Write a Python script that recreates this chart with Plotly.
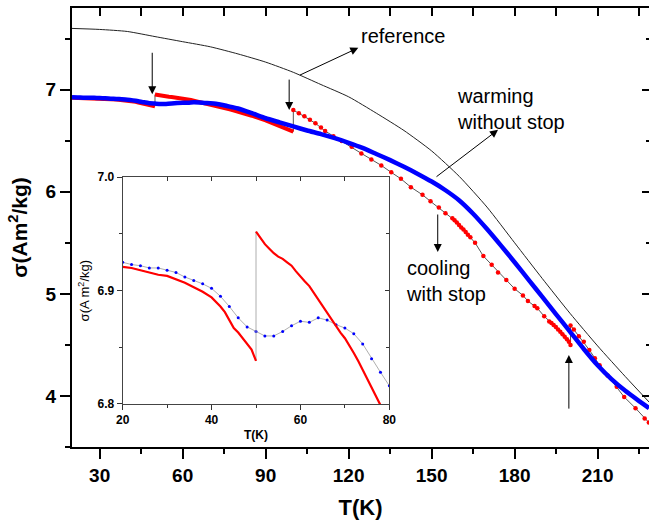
import plotly.graph_objects as go

# ---------------- data ----------------
ref_T = [20, 30, 40, 50, 60, 70, 80, 90, 100, 110, 120, 130, 140, 150, 160, 170, 180, 190, 200, 210, 220, 230]
ref_sigma = [7.60, 7.59, 7.57, 7.52, 7.47, 7.42, 7.35, 7.27, 7.17, 7.05, 6.93, 6.77, 6.60, 6.40, 6.15, 5.85,
             5.50, 5.15, 4.81, 4.49, 4.19, 3.90]

blue_T = [20, 22, 24, 26, 28, 30, 32, 34, 36, 38, 40, 42, 44, 46, 48, 50, 52, 54, 56, 58, 60, 62, 64, 66, 68,
          70, 72, 74, 76, 78, 80, 85, 90, 95, 100, 105, 110, 115, 120, 125, 130, 135, 140, 145, 150, 155, 160,
          165, 170, 175, 180, 185, 190, 195, 200, 205, 210, 215, 220, 225, 228.6]
blue_sigma = [6.925, 6.923, 6.922, 6.920, 6.920, 6.918, 6.916, 6.912, 6.909, 6.906, 6.902, 6.895, 6.886, 6.876,
              6.868, 6.864, 6.860, 6.860, 6.864, 6.869, 6.873, 6.872, 6.876, 6.874, 6.870, 6.867, 6.862, 6.853,
              6.840, 6.828, 6.816, 6.770, 6.720, 6.680, 6.640, 6.600, 6.565, 6.525, 6.480, 6.430, 6.370, 6.310,
              6.245, 6.175, 6.100, 6.015, 5.915, 5.785, 5.635, 5.475, 5.310, 5.140, 4.970, 4.800, 4.630, 4.460,
              4.300, 4.165, 4.050, 3.950, 3.880]

# cooling with stop: four segments separated by the stops at 50 K, 100 K and 200 K
red_T_seg1 = [20, 22, 24, 26, 28, 30, 32, 34, 36, 38, 40, 42, 43, 44, 45, 46, 47, 48, 49, 50]
red_sigma_seg1 = [6.921, 6.920, 6.918, 6.916, 6.914, 6.913, 6.910, 6.907, 6.903, 6.899, 6.894, 6.886, 6.881,
                  6.874, 6.867, 6.863, 6.858, 6.853, 6.848, 6.838]

red_T_seg2 = [50, 51, 52, 53, 54, 55, 56, 57, 58, 59, 60, 61, 62, 63, 64, 65, 66, 67, 68, 69, 70, 71, 72, 73,
              74, 75, 76, 77, 78, 80, 85, 90, 95, 100]
red_sigma_seg2 = [6.952, 6.946, 6.941, 6.937, 6.933, 6.930, 6.928, 6.925, 6.922, 6.917, 6.912, 6.908, 6.904,
                  6.898, 6.892, 6.886, 6.880, 6.874, 6.869, 6.863, 6.858, 6.852, 6.845, 6.838, 6.830, 6.823,
                  6.815, 6.807, 6.799, 6.785, 6.745, 6.700, 6.645, 6.590]

red_T_seg3 = [100, 102, 104, 106, 108, 110, 111.5, 114.5, 117.5, 121.1, 124.6, 128.2, 131.8, 135.4, 138.9,
              142.5, 146.7, 149.6, 152.6, 155.0, 157.5, 158.3, 159.1, 159.9, 160.7, 161.5, 162.3, 163.1, 164.0,
              165.7, 168.7, 171.7, 174.0, 177.0, 180.0, 183.0, 184.8, 187.2, 188.2, 190.7, 192.5, 193.3, 194.1,
              194.9, 195.7, 196.5, 197.3, 198.1, 198.9, 199.6, 200.2]
red_sigma_seg3 = [6.80, 6.77, 6.74, 6.705, 6.67, 6.63, 6.595, 6.545, 6.497, 6.44, 6.376, 6.317, 6.258, 6.19,
                  6.127, 6.045, 5.97, 5.906, 5.845, 5.79, 5.74, 5.72, 5.70, 5.675, 5.65, 5.63, 5.605, 5.58,
                  5.555, 5.50, 5.37, 5.285, 5.21, 5.135, 5.05, 4.985, 4.93, 4.88, 4.86, 4.78, 4.73, 4.715,
                  4.695, 4.675, 4.65, 4.63, 4.605, 4.58, 4.555, 4.53, 4.50]

red_T_seg4 = [200.2, 201.4, 203.2, 205.0, 207.0, 209.0, 210.7, 213.6, 216.9, 219.6, 223.7, 227.0, 228.5]
red_sigma_seg4 = [4.69, 4.65, 4.585, 4.53, 4.45, 4.37, 4.30, 4.20, 4.09, 3.99, 3.88, 3.78, 3.74]

main_x_ticks = [30, 60, 90, 120, 150, 180, 210]
main_y_ticks = [4, 5, 6, 7]
inset_x_ticks = [20, 40, 60, 80]
inset_y_ticks = [6.8, 6.9, 7.0]
inset_y_labels = ["6.8", "6.9", "7.0"]

# ---------------- figure ----------------
FONT = "Liberation Sans, Arial, sans-serif"
XR = [20, 228.57]
YR = [3.5, 7.8]
IXR = [20, 80]
IYR = [6.8, 7.0]
inset_dom_x = [0.0878, 0.550]
inset_dom_y = [0.098, 0.6144]

fig = go.Figure()


def joined(*segs):
    xs, ys = [], []
    for sx, sy in segs:
        xs += list(sx) + [None]
        ys += list(sy) + [None]
    return xs, ys


all_red_T = red_T_seg1 + red_T_seg2 + red_T_seg3 + red_T_seg4
all_red_s = red_sigma_seg1 + red_sigma_seg2 + red_sigma_seg3 + red_sigma_seg4

# main plot
fig.add_trace(go.Scatter(x=ref_T, y=ref_sigma, mode="lines", line=dict(color="#222", width=1, shape="spline", smoothing=0.6),
                         xaxis="x", yaxis="y", showlegend=False, hoverinfo="skip"))
fig.add_trace(go.Scatter(x=all_red_T, y=all_red_s, mode="lines", line=dict(color="#555", width=1),
                         xaxis="x", yaxis="y", showlegend=False, hoverinfo="skip"))
tx, ty = joined((red_T_seg1, red_sigma_seg1), (red_T_seg2, red_sigma_seg2))
fig.add_trace(go.Scatter(x=tx, y=ty, mode="lines", line=dict(color="#ff0000", width=4),
                         xaxis="x", yaxis="y", showlegend=False, hoverinfo="skip"))
tx, ty = joined((red_T_seg3, red_sigma_seg3), (red_T_seg4, red_sigma_seg4))
fig.add_trace(go.Scatter(x=tx, y=ty, mode="markers", marker=dict(color="#ff0000", size=4.5),
                         xaxis="x", yaxis="y", showlegend=False, hoverinfo="skip"))
fig.add_trace(go.Scatter(x=blue_T, y=blue_sigma, mode="lines",
                         line=dict(color="#0000ff", width=4.5, shape="spline", smoothing=0.5),
                         xaxis="x", yaxis="y", showlegend=False, hoverinfo="skip"))

# inset
ib_T = [t for t in blue_T if t <= 81]
ib_s = [s for t, s in zip(blue_T, blue_sigma) if t <= 81]
fig.add_trace(go.Scatter(x=ib_T, y=ib_s, mode="lines+markers", line=dict(color="#999", width=0.8),
                         marker=dict(color="#0000ff", size=3),
                         xaxis="x3", yaxis="y3", showlegend=False, hoverinfo="skip"))
fig.add_trace(go.Scatter(x=red_T_seg1 + red_T_seg2, y=red_sigma_seg1 + red_sigma_seg2, mode="lines",
                         line=dict(color="#999", width=0.8),
                         xaxis="x3", yaxis="y3", showlegend=False, hoverinfo="skip"))
tx, ty = joined((red_T_seg1, red_sigma_seg1), (red_T_seg2, red_sigma_seg2))
fig.add_trace(go.Scatter(x=tx, y=ty, mode="lines", line=dict(color="#ff0000", width=2.2),
                         xaxis="x3", yaxis="y3", showlegend=False, hoverinfo="skip"))
# empty traces to make sure overlay axes are drawn
for xa, ya in [("x2", "y"), ("x", "y2"), ("x4", "y3"), ("x3", "y4")]:
    fig.add_trace(go.Scatter(x=[], y=[], xaxis=xa, yaxis=ya, showlegend=False))

tick_font = dict(family=FONT, size=19, color="black", weight="bold")
small_font = dict(family=FONT, size=12, color="black", weight="bold")

fig.update_layout(
    width=656, height=520,
    margin=dict(l=72, r=0, t=8, b=73),
    paper_bgcolor="white", plot_bgcolor="white",
    showlegend=False,
    xaxis=dict(domain=[0, 1], range=XR, anchor="y", tickvals=main_x_ticks, ticks="outside", ticklen=10,
               tickwidth=2, tickcolor="black", showline=True, linewidth=2, linecolor="black",
               showgrid=False, zeroline=False, tickfont=tick_font,
               minor=dict(dtick=15, tick0=0, ticks="outside", ticklen=5, tickwidth=2, tickcolor="black", showgrid=False),
               title=dict(text="T(K)", font=dict(family=FONT, size=22, color="black", weight="bold"), standoff=18)),
    yaxis=dict(domain=[0, 1], range=YR, anchor="x", tickvals=main_y_ticks, ticks="outside", ticklen=10,
               tickwidth=2, tickcolor="black", showline=True, linewidth=2, linecolor="black",
               showgrid=False, zeroline=False, tickfont=tick_font,
               minor=dict(dtick=0.5, tick0=0, ticks="outside", ticklen=5, tickwidth=2, tickcolor="black", showgrid=False),
               title=dict(text="σ(Am<sup>2</sup>/kg)", font=dict(family=FONT, size=21, color="black", weight="bold"),
                          standoff=12)),
    xaxis2=dict(overlaying="x", side="top", anchor="y", range=XR, tickvals=main_x_ticks, ticks="inside",
                ticklen=8, tickwidth=1.5, tickcolor="black", showline=True, linewidth=2, linecolor="black",
                showticklabels=False, showgrid=False, zeroline=False,
                minor=dict(dtick=15, tick0=0, ticks="inside", ticklen=8, tickwidth=1.5, tickcolor="black", showgrid=False)),
    yaxis2=dict(overlaying="y", side="right", anchor="x", range=YR, tickvals=main_y_ticks, ticks="inside",
                ticklen=7, tickwidth=1.5, tickcolor="black", showline=False, showticklabels=False,
                showgrid=False, zeroline=False,
                minor=dict(dtick=0.5, tick0=0, ticks="inside", ticklen=3, tickwidth=1.5, tickcolor="black", showgrid=False)),
    xaxis3=dict(domain=inset_dom_x, range=IXR, anchor="y3", tickvals=inset_x_ticks, ticks="outside", ticklen=5,
                tickwidth=1, tickcolor="#333", showline=True, linewidth=1.2, linecolor="#444",
                showgrid=False, zeroline=False, tickfont=small_font,
                minor=dict(dtick=10, tick0=0, ticks="outside", ticklen=3, tickwidth=1, tickcolor="#333", showgrid=False),
                title=dict(text="T(K)", font=dict(family=FONT, size=12, color="black", weight="bold"), standoff=4)),
    yaxis3=dict(domain=inset_dom_y, range=IYR, anchor="x3", tickvals=inset_y_ticks, ticktext=inset_y_labels,
                ticks="outside", ticklen=5, tickwidth=1, tickcolor="#333", showline=True, linewidth=1.2,
                linecolor="#444", showgrid=False, zeroline=False, tickfont=small_font,
                minor=dict(dtick=0.05, tick0=0, ticks="outside", ticklen=3, tickwidth=1, tickcolor="#333", showgrid=False),
                title=dict(text="σ(A m<sup>2</sup>/kg)", font=dict(family=FONT, size=13, color="black"), standoff=4)),
    xaxis4=dict(overlaying="x3", side="top", anchor="y3", domain=inset_dom_x, range=IXR, tickvals=inset_x_ticks,
                ticks="inside", ticklen=4, tickwidth=1, tickcolor="#333", showline=True, linewidth=1.2,
                linecolor="#444", showticklabels=False, showgrid=False, zeroline=False,
                minor=dict(dtick=10, tick0=0, ticks="inside", ticklen=4, tickwidth=1, tickcolor="#333", showgrid=False)),
    yaxis4=dict(overlaying="y3", side="right", anchor="x3", domain=inset_dom_y, range=IYR, tickvals=inset_y_ticks,
                ticks="inside", ticklen=4, tickwidth=1, tickcolor="#333", showline=True, linewidth=1.2,
                linecolor="#444", showticklabels=False, showgrid=False, zeroline=False,
                minor=dict(dtick=0.05, tick0=0, ticks="inside", ticklen=3, tickwidth=1, tickcolor="#333", showgrid=False)),
)

ann_font = dict(family=FONT, size=20, color="black")
arrow_kw = dict(showarrow=True, arrowhead=2, arrowsize=1.6, arrowwidth=1, arrowcolor="black",
                axref="pixel", ayref="pixel", xref="x", yref="y", text="")
annotations = [
    dict(x=123.9, y=7.53, text="reference", showarrow=False, xanchor="left", yanchor="middle",
         xref="x", yref="y", font=ann_font),
    dict(x=158.6, y=6.81, text="warming<br>without stop", showarrow=False, xanchor="left", yanchor="middle",
         align="left", xref="x", yref="y", font=ann_font),
    dict(x=140.0, y=5.13, text="cooling<br>with stop", showarrow=False, xanchor="left", yanchor="middle",
         align="left", xref="x", yref="y", font=ann_font),
    dict(x=123.5, y=7.41, ax=-60, ay=28, **arrow_kw),
    dict(x=174.0, y=6.607, ax=-63, ay=48, **arrow_kw),
    dict(x=152.2, y=5.41, ax=0, ay=-39, **arrow_kw),
    dict(x=49.0, y=6.955, ax=0, ay=-43, **arrow_kw),
    dict(x=98.5, y=6.80, ax=0, ay=-32, **arrow_kw),
    dict(x=199.6, y=4.40, ax=0, ay=55, **arrow_kw),
]
fig.update_layout(annotations=annotations)

fig.write_html("out.html")
